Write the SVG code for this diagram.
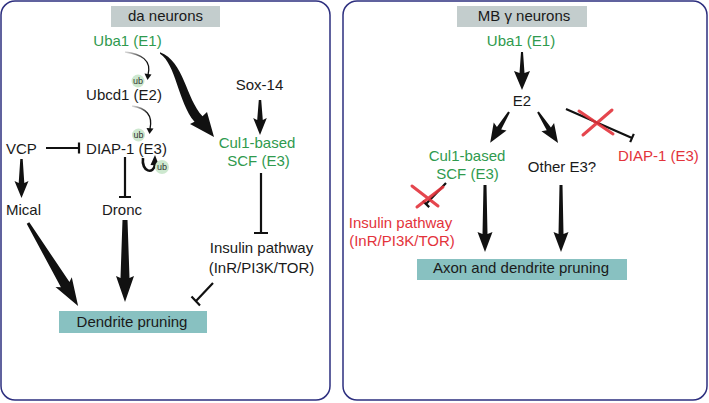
<svg xmlns="http://www.w3.org/2000/svg" width="709" height="403" viewBox="0 0 709 403">
<defs>
<style>
text{font-family:"Liberation Sans",Arial,Helvetica,sans-serif;font-size:15px;fill:#1a1a1a}
.g{fill:#2f9a4e}
.r{fill:#e3333b}
.m{text-anchor:middle}
.ub{font-size:9px;text-anchor:middle;fill:#333}
.panel{fill:#fff;stroke:#2d2f7f;stroke-width:1.5}
.hdr{fill:#c3cdcd}
.out{fill:#88c1c1}
.ubc{fill:#cde8cf}
.inh{stroke:#111;stroke-width:2.2;fill:none}
.arr{fill:#111}
.x{stroke:#e3333b;stroke-width:3;stroke-linecap:round;opacity:0.9}
</style>
<linearGradient id="fade" x1="0" y1="0" x2="1" y2="1">
<stop offset="0" stop-color="#ddd"/>
<stop offset="0.6" stop-color="#111"/>
</linearGradient>
</defs>
<rect width="709" height="403" fill="#fff"/>
<g id="panel-left">
<rect class="panel" x="1" y="1" width="329" height="399" rx="14"/>
<rect class="hdr" x="111" y="6" width="109" height="21"/>
<text class="m" x="165.5" y="21">da neurons</text>
</g>
<g id="panel-right">
<rect class="panel" x="343" y="1" width="364" height="399" rx="14"/>
<rect class="hdr" x="457" y="6" width="130" height="21"/>
<text class="m" x="524" y="21">MB γ neurons</text>
</g>
<g id="connectors">
<!-- left panel -->
<path d="M125,52 C141,54 152,60 148,75" stroke="url(#fade)" stroke-width="1.3" fill="none"/>
<path class="arr" d="M144.5,73.5 L147.5,80 L151.5,74.5 Z"/>
<path d="M132,106 C146,108 153,115 150,129" stroke="url(#fade)" stroke-width="1.3" fill="none"/>
<path class="arr" d="M146.5,128 L149.5,134 L153.5,128.5 Z"/>
<path d="M143,158 C141,172 154,175 155,164" stroke="#111" stroke-width="2.6" fill="none"/>
<path class="arr" d="M150.5,165 L155,155 L159,165.5 Z"/>
<path class="arr" d="M160,52.3 C184,61 186,99 202.5,116.2 L207,112 L214,137 L190,124 L194.5,121.8 C178,102 176,64 160,53.7 Z"/>
<path class="inh" d="M46,148 H79 M79,142.5 V153.5"/>
<path class="inh" d="M125,157 V197 M119,197 H131"/>
<path class="inh" d="M261,173 V233 M254,233 H268"/>
<path class="inh" d="M213,283 L196,301 M191.5,296.5 L200,305.5"/>
<path class="arr" transform="translate(21.5,159)" d="M-1.2,0 L1.2,0 L2.8,24 L7,22 L0,39 L-7,22 L-2.8,24 Z"/>
<path class="arr" transform="translate(260,100)" d="M-1.2,0 L1.2,0 L2.8,20 L6.8,18 L0,35 L-6.8,18 L-2.8,20 Z"/>
<path class="arr" transform="translate(28,223) rotate(-31.1)" d="M-1.5,0 L1.5,0 L5,72 L9.5,69 L0,97 L-9.5,69 L-5,72 Z"/>
<path class="arr" transform="translate(125,220)" d="M-2.5,0 L2.5,0 L4.5,58 L9,56 L0,82 L-9,56 L-4.5,58 Z"/>
<!-- right panel -->
<path class="arr" transform="translate(522,52)" d="M-1,0 L1,0 L2.5,21 L8,19 L0,38 L-8,19 L-2.5,21 Z"/>
<path class="arr" transform="translate(509,112) rotate(31.5)" d="M-1,0 L1,0 L2.5,19 L7.5,17 L0,36 L-7.5,17 L-2.5,19 Z"/>
<path class="arr" transform="translate(538,112) rotate(-32.8)" d="M-1,0 L1,0 L2.5,20 L7.5,18 L0,37 L-7.5,18 L-2.5,20 Z"/>
<path class="arr" transform="translate(485,185)" d="M-1.5,0 L1.5,0 L2.5,49 L7.5,47 L0,67 L-7.5,47 L-2.5,49 Z"/>
<path class="arr" transform="translate(561,185)" d="M-1.5,0 L1.5,0 L2.5,49 L7.5,47 L0,67 L-7.5,47 L-2.5,49 Z"/>
<path class="inh" d="M566,109 L632,138 M630.2,142.1 L633.8,133.9"/>
<path class="x" d="M579,111 L613,134 M583,135 L612,110"/>
<path class="inh" d="M446,183 L426,204 M429.2,207.1 L422.8,200.9"/>
<path class="x" d="M412,186 L438,206 M417,207 L443,187"/>
</g>
<g id="uba1-left"><text class="g m" x="127.5" y="46">Uba1 (E1)</text></g>
<g id="ubcd1"><text class="m" x="124" y="100">Ubcd1 (E2)</text><circle class="ubc" cx="138" cy="81" r="6.5"/><text class="ub" x="138" y="84">ub</text></g>
<g id="diap1-left"><text class="m" x="126.5" y="154">DIAP-1 (E3)</text><circle class="ubc" cx="138.5" cy="135" r="6.5"/><text class="ub" x="138.5" y="138">ub</text><circle class="ubc" cx="162" cy="167" r="7"/><text class="ub" x="162" y="170">ub</text></g>
<g id="vcp"><text x="6" y="154">VCP</text></g>
<g id="mical"><text x="6" y="215">Mical</text></g>
<g id="dronc"><text class="m" x="122" y="215">Dronc</text></g>
<g id="sox14"><text class="m" x="259.5" y="90">Sox-14</text></g>
<g id="scf-left"><text class="g m" x="257" y="148">Cul1-based</text><text class="g m" x="258.5" y="166">SCF (E3)</text></g>
<g id="insulin-left"><text class="m" x="261.5" y="253">Insulin pathway</text><text class="m" x="261.5" y="273">(InR/PI3K/TOR)</text></g>
<g id="dendrite-pruning"><rect class="out" x="59" y="311" width="148" height="22"/><text class="m" x="132" y="327">Dendrite pruning</text></g>
<g id="uba1-right"><text class="g m" x="521" y="46">Uba1 (E1)</text></g>
<g id="e2"><text class="m" x="522" y="106">E2</text></g>
<g id="scf-right"><text class="g m" x="467" y="161">Cul1-based</text><text class="g m" x="467.5" y="179">SCF (E3)</text></g>
<g id="other-e3"><text class="m" x="562" y="172">Other E3?</text></g>
<g id="diap1-right"><text class="r" x="618" y="161">DIAP-1 (E3)</text></g>
<g id="insulin-right"><text class="r m" x="400.5" y="228">Insulin pathway</text><text class="r m" x="402" y="246">(InR/PI3K/TOR)</text></g>
<g id="axon-dendrite-pruning"><rect class="out" x="417" y="259" width="210" height="21"/><text class="m" x="521" y="273">Axon and dendrite pruning</text></g>
</svg>
